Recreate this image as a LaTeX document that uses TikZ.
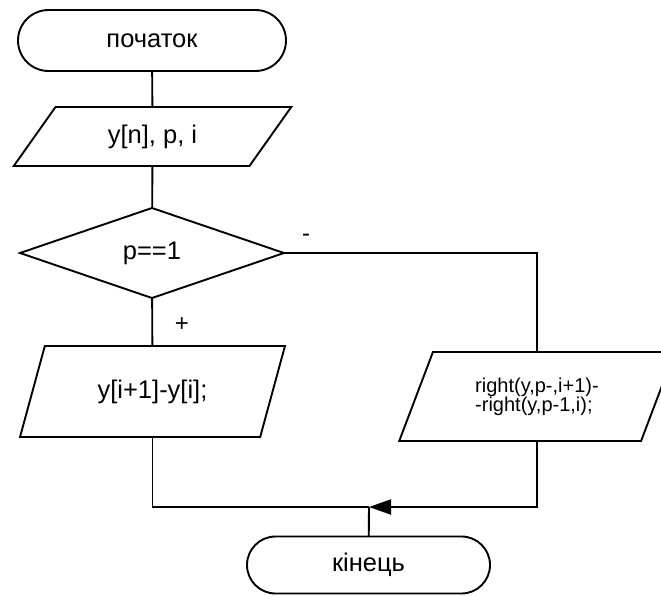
\documentclass[tikz,border=0pt]{standalone}
\usepackage{fontspec}
\setmainfont{Liberation Sans}
\usetikzlibrary{shapes.geometric,shapes.misc,arrows.meta}

\begin{document}
\begin{tikzpicture}[x=1pt,y=-1pt,line width=1.9pt,
    txt/.style={font=\fontsize{25.5}{28}\selectfont},
    term/.style n args={2}{draw,rounded rectangle,minimum width=#1,minimum height=#2,
      inner sep=0pt,outer sep=0pt,txt},
    io/.style n args={3}{draw,trapezium,trapezium stretches=true,
      trapezium left angle=#3,trapezium right angle=180-#3,
      minimum width=#1,minimum height=#2,inner sep=0pt,outer sep=0pt,txt},
    decide/.style={draw,diamond,aspect=2.93,minimum width=264pt,minimum height=90pt,
      inner sep=0pt,outer sep=0pt,txt}]
  \clip (0,0) rectangle (661,595);
  \node[term={268pt}{61pt}] (start) at (152,40.5) {початок};
  \node[io={278pt}{59pt}{51}] (input) at (152.5,136.5) {y[n], p, i};
  \node[decide] (cond) at (152,253) {p==1};
  \node[io={265pt}{91pt}{62}] (yes) at (152.5,391.5) {y[i+1]-y[i];};
  \node[io={276pt}{89pt}{62}, font=\fontsize{20}{19}\selectfont, align=left]
    (no) at (537,396.5) {right(y,p-,i+1)-\\-right(y,p-1,i);};
  \node[term={243pt}{57pt}] (stop) at (368.5,565) {кінець};
  \coordinate (merge) at (369,507);
  \draw (start) -- (input);
  \draw (input) -- (cond);
  \draw (cond) -- (yes);
  \draw (cond.east) -| (no);
  \draw (yes) |- (merge);
  \draw[-{Triangle[length=22pt,width=15pt]}] (no) |- (merge);
  \draw (merge) -- (stop);
  \node[font=\fontsize{24}{26}\selectfont] (minus) at (306,238) {-};
  \node[font=\fontsize{24}{26}\selectfont] (plus) at (182,325) {+};
\end{tikzpicture}
\end{document}
